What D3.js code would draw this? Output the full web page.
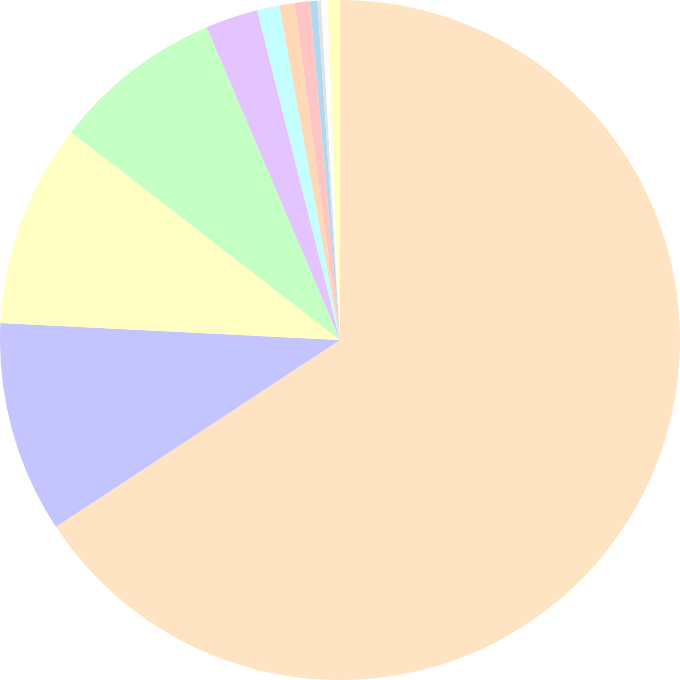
<!DOCTYPE html>
<html><head><meta charset="utf-8">
<script src="https://cdn.jsdelivr.net/npm/d3@7"></script>
<style>html,body{margin:0;padding:0;background:#fff;}svg{display:block;}</style>
</head><body>
<svg id="chart" width="680" height="680"></svg>
<script>
const categories = ["A","B","C","D","E","F","G","H","I","J","K","L"];
const values = [236.8, 36.2, 34.9, 29.2, 9.0, 3.8, 2.6, 2.6, 1.3, 0.6, 1.1, 2.1];
const colors = ["#ffe4c4","#c4c4ff","#ffffc4","#c4ffc4","#e4c4ff","#c4ffff","#ffd8b8","#ffc4c4","#b0d8ee","#e2e2e2","#fdfdfd","#ffffc0"];

const svg = d3.select("#chart");
const g = svg.append("g").attr("transform","translate(340,340)");
const pie = d3.pie().sort(null).value(d => d.v);
const arc = d3.arc().innerRadius(0).outerRadius(340);
const data = categories.map((c,i)=>({c, v: values[i], col: colors[i]}));
g.selectAll("path").data(pie(data)).join("path")
  .attr("d", arc).attr("fill", d => d.data.col);
</script>
</body></html>
